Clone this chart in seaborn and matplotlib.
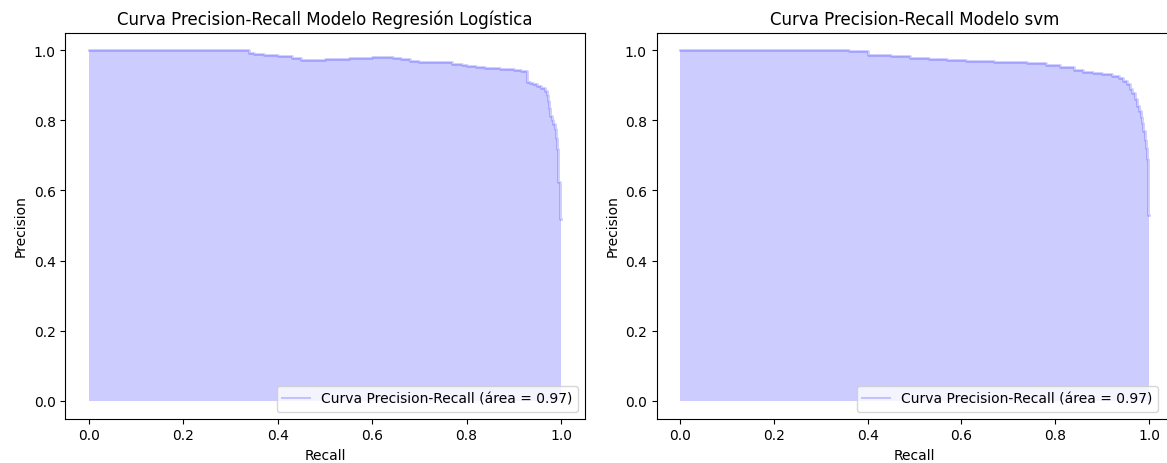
import matplotlib
matplotlib.use("Agg")
import matplotlib.pyplot as plt
import seaborn as sns
import pandas as pd

# Precision-recall points, logistic regression model
recall_logreg = [0.0, 0.34, 0.35, 0.37, 0.40, 0.43, 0.45, 0.50, 0.55, 0.60, 0.645,
                 0.66, 0.68, 0.70, 0.72, 0.74, 0.77, 0.79, 0.80, 0.82, 0.84, 0.87,
                 0.90, 0.915, 0.928, 0.935, 0.94, 0.95, 0.958, 0.966, 0.97, 0.973,
                 0.975, 0.977, 0.981, 0.984, 0.987, 0.989, 0.991, 0.994, 0.998, 1.0]
precision_logreg = [1.0, 0.992, 0.988, 0.985, 0.983, 0.978, 0.973, 0.975, 0.977, 0.979, 0.976,
                    0.974, 0.969, 0.967, 0.966, 0.965, 0.961, 0.958, 0.955, 0.952, 0.948, 0.946,
                    0.944, 0.94, 0.908, 0.905, 0.903, 0.898, 0.892, 0.884, 0.872, 0.855,
                    0.835, 0.813, 0.80, 0.79, 0.775, 0.75, 0.718, 0.624, 0.519, 0.519]

# Precision-recall points, SVM model
recall_svm = [0.0, 0.36, 0.40, 0.45, 0.49, 0.53, 0.57, 0.61, 0.67, 0.74, 0.78, 0.81,
              0.84, 0.86, 0.88, 0.90, 0.92, 0.935, 0.945, 0.952, 0.959, 0.964, 0.969,
              0.974, 0.978, 0.982, 0.985, 0.988, 0.991, 0.993, 0.995, 0.998, 1.0]
precision_svm = [1.0, 0.998, 0.986, 0.982, 0.978, 0.974, 0.971, 0.969, 0.965, 0.962, 0.957, 0.951,
                 0.944, 0.938, 0.935, 0.932, 0.926, 0.92, 0.913, 0.902, 0.889, 0.877, 0.86,
                 0.841, 0.826, 0.81, 0.793, 0.77, 0.744, 0.72, 0.689, 0.53, 0.53]

area_logreg = 0.97
area_svm = 0.97

panels = [
    ("Curva Precision-Recall Modelo Regresión Logística", recall_logreg, precision_logreg, area_logreg),
    ("Curva Precision-Recall Modelo svm", recall_svm, precision_svm, area_svm),
]

fig = plt.figure(figsize=(11.67, 4.64), dpi=100)
W, H = 1167, 464
# axes left edge, width and the x pixel where the legend's right side sits
boxes = [(65.4, 519.2, 585.0), (656.5, 516.0, 1165.0)]
top_px, bottom_px = 33.5, 419.5

for (title, rec, prec, area), (x0, w, leg_x) in zip(panels, boxes):
    ax = fig.add_axes([x0 / W, (H - bottom_px) / H, w / W, (bottom_px - top_px) / H])
    df = pd.DataFrame({"Recall": rec, "Precision": prec})
    sns.lineplot(data=df, x="Recall", y="Precision", ax=ax, sort=False, estimator=None,
                 drawstyle="steps-post", color="b", alpha=0.2, linewidth=2.0,
                 label=f"Curva Precision-Recall (área = {area:.2f})")
    ax.fill_between(df["Recall"], df["Precision"], step="post", alpha=0.2, color="b", linewidth=0)
    ax.set_title(title, fontsize=12)
    ax.set_xlabel("Recall", fontsize=10)
    ax.set_ylabel("Precision", fontsize=10)
    ax.set_xticks([0.0, 0.2, 0.4, 0.6, 0.8, 1.0])
    ax.set_yticks([0.0, 0.2, 0.4, 0.6, 0.8, 1.0])
    ax.margins(x=0.05, y=0.05)
    leg = ax.legend(loc="lower right", fontsize=10,
                    bbox_to_anchor=((leg_x - x0) / w, 0.0), bbox_transform=ax.transAxes)
    for h in leg.legend_handles:
        h.set_linewidth(1.5)

fig.savefig("out.png", dpi=100)
